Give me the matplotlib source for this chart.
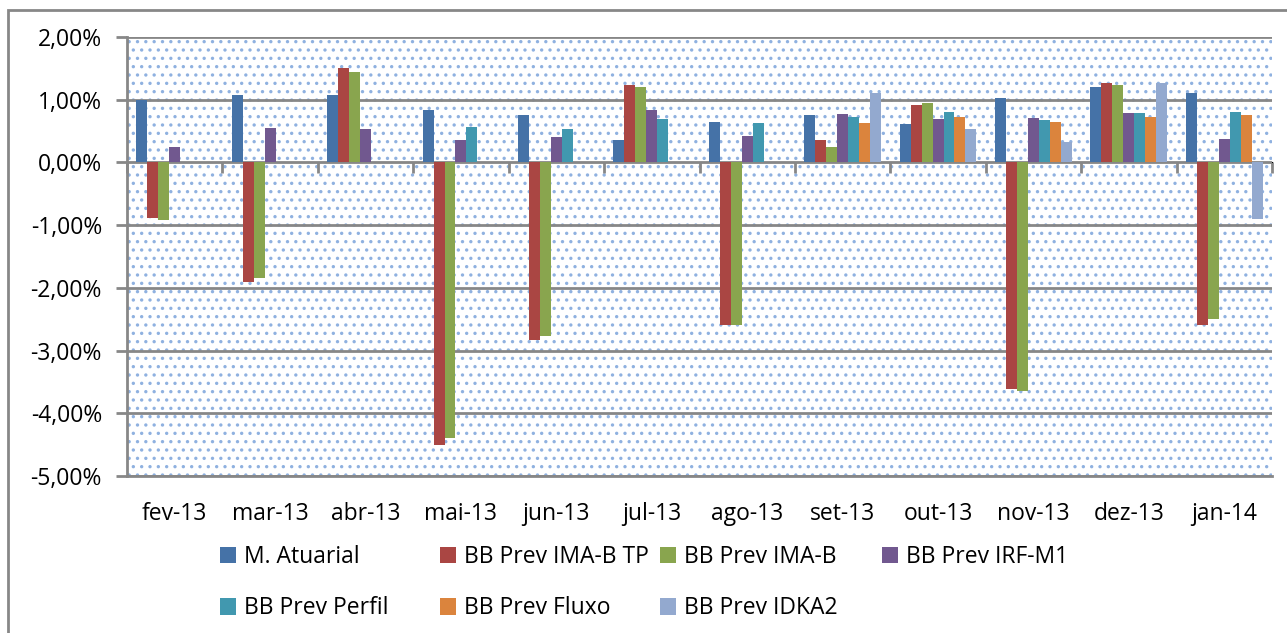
"""Monthly returns: M. Atuarial vs BB Prev funds (fev-13 to jan-14)."""
import numpy as np
import matplotlib.pyplot as plt
from matplotlib.patches import Patch, Rectangle
from matplotlib.ticker import FuncFormatter

nan = np.nan

months = ['fev-13', 'mar-13', 'abr-13', 'mai-13', 'jun-13', 'jul-13',
          'ago-13', 'set-13', 'out-13', 'nov-13', 'dez-13', 'jan-14']

# Monthly returns in %, NaN where the fund has no value
m_atuarial = [1.00, 1.08, 1.07, 0.84, 0.76, 0.35, 0.64, 0.75, 0.61, 1.02, 1.21, 1.11]
ima_b_tp = [-0.88, -1.91, 1.50, -4.50, -2.83, 1.24, -2.60, 0.35, 0.91, -3.61, 1.26, -2.59]
ima_b = [-0.92, -1.85, 1.44, -4.39, -2.76, 1.21, -2.60, 0.25, 0.94, -3.65, 1.24, -2.50]
irf_m1 = [0.24, 0.55, 0.54, 0.35, 0.41, 0.83, 0.42, 0.78, 0.70, 0.71, 0.79, 0.37]
perfil = [nan, nan, nan, 0.57, 0.54, 0.70, 0.63, 0.72, 0.80, 0.67, 0.79, 0.81]
fluxo = [nan, nan, nan, nan, nan, nan, nan, 0.63, 0.72, 0.64, 0.72, 0.76]
idka2 = [nan, nan, nan, nan, nan, nan, nan, 1.11, 0.54, 0.33, 1.27, -0.90]

series_names = ['M. Atuarial', 'BB Prev IMA-B TP', 'BB Prev IMA-B', 'BB Prev IRF-M1',
                'BB Prev Perfil', 'BB Prev Fluxo', 'BB Prev IDKA2']
series_values = [m_atuarial, ima_b_tp, ima_b, irf_m1, perfil, fluxo, idka2]
colors = ['#4572A7', '#AA4643', '#89A54E', '#71588F', '#4198AF', '#DB843D', '#93A9CF']

plt.rcParams['font.family'] = ['Open Sans', 'DejaVu Sans']
plt.rcParams['hatch.linewidth'] = 1.2
grid_color = '#878787'

fig = plt.figure(figsize=(12.87, 6.33), dpi=100)
ax = fig.add_axes([127 / 1287, 1 - 476 / 633, (1272 - 127) / 1287, (476 - 37) / 633])

# Dotted plot-area fill
ax.add_patch(Rectangle((0, 0), 1, 1, transform=ax.transAxes, facecolor='white',
                       edgecolor='#8FB1E0', hatch='..', linewidth=0, zorder=0))

x = np.arange(len(months))
n = len(series_names)
width = 1 / (n + 1.7)
for i, (vals, color) in enumerate(zip(series_values, colors)):
    ax.bar(x + (i - (n - 1) / 2) * width, vals, width, color=color, zorder=3)

ax.set_xlim(-0.5, len(months) - 0.5)
ax.set_ylim(-5, 2)
ax.set_yticks(np.arange(-5, 2.01, 1))
ax.yaxis.set_major_formatter(FuncFormatter(lambda v, p: f'{v:.2f}%'.replace('.', ',')))
ax.yaxis.grid(True, color=grid_color, linewidth=2, zorder=1)
ax.set_axisbelow(True)

ax.set_xticks(x)
ax.set_xticklabels(months)
ax.tick_params(axis='x', length=0, pad=19, labelsize=16.5)
ax.tick_params(axis='y', length=8, width=2, color=grid_color, pad=10, labelsize=16.5)

for side in ['top', 'right']:
    ax.spines[side].set_visible(False)
for side in ['left', 'bottom']:
    ax.spines[side].set_color(grid_color)
    ax.spines[side].set_linewidth(2)

# Category axis crossing at zero, with ticks between groups
zero_pos = (0 - (-5)) / (2 - (-5))
sec = ax.secondary_xaxis(zero_pos)
sec.set_xticks(np.arange(-0.5, len(months), 1))
sec.set_xticklabels([])
sec.tick_params(direction='in', length=8, width=2, color=grid_color)
sec.spines['bottom'].set_color(grid_color)
sec.spines['bottom'].set_linewidth(2)

# Legend: equal-width columns, two rows
col_x = [220, 440, 660, 882]
for c in range(4):
    idx = [c, c + 4] if c + 4 < n else [c]
    handles = [Patch(facecolor=colors[k], edgecolor='none') for k in idx]
    fig.legend(handles, [series_names[k] for k in idx], loc='upper left',
               bbox_to_anchor=(col_x[c] / 1287, 1 - 545 / 633), frameon=False,
               fontsize=16.5, handlelength=0.7, handleheight=0.7, handletextpad=0.35,
               labelspacing=1.2, borderpad=0, borderaxespad=0)

# Outer chart frame
fig.patches.append(Rectangle((8 / 1287, -0.1), 1.2, 1 - 10 / 633 + 0.1,
                             transform=fig.transFigure, fill=False,
                             edgecolor=grid_color, linewidth=2))

fig.savefig('out.png', dpi=100)
